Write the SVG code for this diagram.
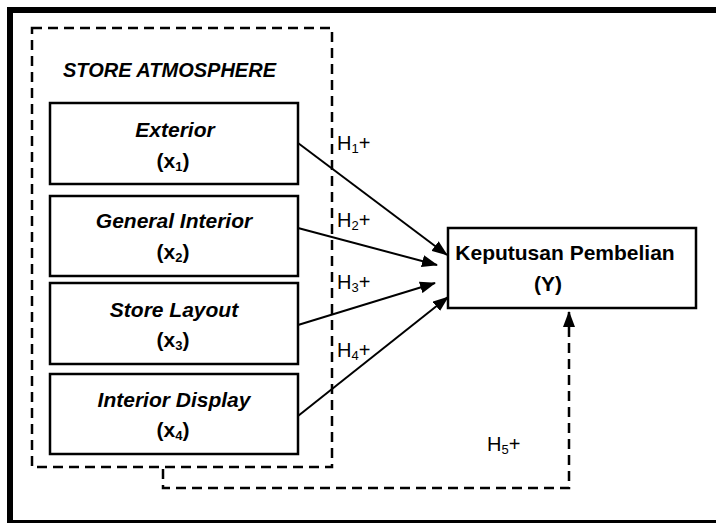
<svg xmlns="http://www.w3.org/2000/svg" width="716" height="523" viewBox="0 0 716 523">
<style>
.box{fill:#fff;stroke:#000;stroke-width:2.5}
.dash{fill:none;stroke:#000;stroke-width:2.5;stroke-dasharray:10,6}
.ln{fill:none;stroke:#000;stroke-width:2}
.t{font-family:"Liberation Sans",Arial,sans-serif;font-weight:bold;font-size:21px;text-anchor:middle}
.ti{font-style:italic}
.h{font-family:"Liberation Sans",Arial,sans-serif;font-size:20px}
.sub{font-size:13px}
</style>
<defs>
<marker id="ah" markerWidth="16" markerHeight="12" refX="15" refY="6" orient="auto" markerUnits="userSpaceOnUse">
<path d="M0,0 L16,6 L0,12 Z" fill="#000"/>
</marker>
</defs>
<rect x="10" y="10" width="720" height="513" fill="#fff" stroke="#000" stroke-width="6"/>
<g id="store-atmosphere">
<rect class="dash" x="32" y="28" width="300" height="439"/>
<text class="t ti" x="63" y="77" style="text-anchor:start;font-size:20px">STORE ATMOSPHERE</text>
</g>
<g id="exterior">
<rect class="box" x="50" y="103" width="248" height="81"/>
<text class="t ti" x="175" y="137">Exterior</text>
<text class="t" x="173" y="168">(x<tspan class="sub" dy="3">1</tspan><tspan dy="-3">)</tspan></text>
</g>
<g id="general-interior">
<rect class="box" x="50" y="196" width="248" height="80"/>
<text class="t ti" x="174" y="228">General Interior</text>
<text class="t" x="173" y="259">(x<tspan class="sub" dy="3">2</tspan><tspan dy="-3">)</tspan></text>
</g>
<g id="store-layout">
<rect class="box" x="50" y="283" width="248" height="81"/>
<text class="t ti" x="174" y="317">Store Layout</text>
<text class="t" x="173" y="347">(x<tspan class="sub" dy="3">3</tspan><tspan dy="-3">)</tspan></text>
</g>
<g id="interior-display">
<rect class="box" x="50" y="374" width="248" height="80"/>
<text class="t ti" x="174" y="407">Interior Display</text>
<text class="t" x="173" y="437">(x<tspan class="sub" dy="3">4</tspan><tspan dy="-3">)</tspan></text>
</g>
<g id="keputusan">
<rect class="box" x="448" y="228" width="248" height="80"/>
<text class="t" x="565" y="260">Keputusan Pembelian</text>
<text class="t" x="548" y="291">(Y)</text>
</g>
<g id="connectors">
<line class="ln" x1="298" y1="143" x2="447" y2="255" marker-end="url(#ah)"/>
<line class="ln" x1="298" y1="228" x2="437" y2="265" marker-end="url(#ah)"/>
<line class="ln" x1="298" y1="325" x2="435" y2="283" marker-end="url(#ah)"/>
<line class="ln" x1="298" y1="416" x2="448" y2="297" marker-end="url(#ah)"/>
<path class="dash" d="M163,469 V488 H569 V312" marker-end="url(#ah)"/>
<text class="h" x="337" y="150">H<tspan class="sub" dy="3">1</tspan><tspan dy="-3">+</tspan></text>
<text class="h" x="337" y="227">H<tspan class="sub" dy="3">2</tspan><tspan dy="-3">+</tspan></text>
<text class="h" x="337" y="289">H<tspan class="sub" dy="3">3</tspan><tspan dy="-3">+</tspan></text>
<text class="h" x="337" y="357">H<tspan class="sub" dy="3">4</tspan><tspan dy="-3">+</tspan></text>
<text class="h" x="487" y="451">H<tspan class="sub" dy="3">5</tspan><tspan dy="-3">+</tspan></text>
</g>
</svg>
